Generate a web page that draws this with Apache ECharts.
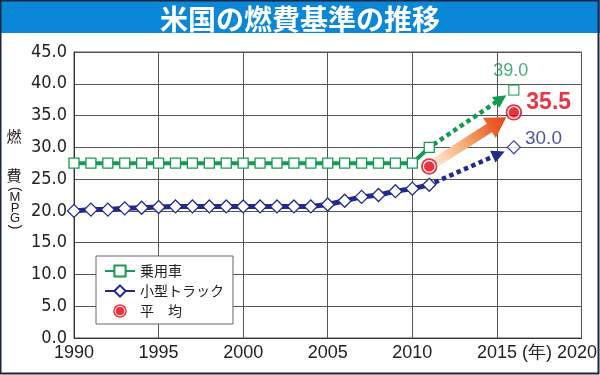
<!DOCTYPE html>
<html>
<head>
<meta charset="utf-8">
<script src="https://cdn.jsdelivr.net/npm/echarts@6/dist/echarts.min.js"></script>
<style>
  html, body { margin: 0; padding: 0; background: #fff; }
  #chart { width: 600px; height: 375px; }
</style>
</head>
<body>
<div id="chart"></div>
<script>
// 年（実績）
var years = [1990, 1991, 1992, 1993, 1994, 1995, 1996, 1997, 1998, 1999, 2000,
             2001, 2002, 2003, 2004, 2005, 2006, 2007, 2008, 2009, 2010, 2011];
// 乗用車 MPG
var carMpg = [27.5, 27.5, 27.5, 27.5, 27.5, 27.5, 27.5, 27.5, 27.5, 27.5, 27.5,
              27.5, 27.5, 27.5, 27.5, 27.5, 27.5, 27.5, 27.5, 27.5, 27.5, 30.0];
// 小型トラック MPG
var truckMpg = [20.0, 20.2, 20.2, 20.4, 20.5, 20.6, 20.7, 20.7, 20.7, 20.7, 20.7,
                20.7, 20.7, 20.7, 20.7, 21.0, 21.6, 22.2, 22.5, 23.1, 23.5, 24.1];
// 目標（2016年）
var targetYear = 2016;
var carTarget = 39.0;
var truckTarget = 30.0;
// 平均
var avgYears = [2011, 2016];
var avgMpg = [27.0, 35.5];

var GREEN = '#149a52';
var NAVY = '#1f2a8a';
var RED = '#e60012';
// 細い数字用（condensed を fontStyle に入れて font-stretch を効かせる）
var NARROW = '"Liberation Sans Narrow", "Liberation Sans", sans-serif';
var NARROW_Y = '"DejaVu Sans Condensed", "DejaVu Sans", sans-serif';
var JP = '"Noto Sans CJK JP", sans-serif';

var last = years.length - 1;
// 矢印: [x1, y1, x2, y2]
var arrows = [
  [years[last], carMpg[last], targetYear, carTarget],
  [years[last], truckMpg[last], targetYear, truckTarget],
  [avgYears[0], avgMpg[0], avgYears[1], avgMpg[1]]
];
// 矢印の見た目（index順）
var arrowStyle = [
  { kind: 'dot', color: GREEN, gap0: 5, gap1: 9 },
  { kind: 'dot', color: NAVY, gap0: 6, gap1: 10 },
  { kind: 'fat', gap0: 8, gap1: 9 }
];

var avgSymbol = 'image://data:image/svg+xml;utf8,' + encodeURIComponent(
  '<svg xmlns="http://www.w3.org/2000/svg" width="32" height="32">' +
  '<circle cx="16" cy="16" r="15.5" fill="#e60012"/>' +
  '<circle cx="16" cy="16" r="11" fill="#e60012" stroke="#ffffff" stroke-width="2.2"/></svg>');

function pair(xs, ys) {
  return xs.map(function (x, i) { return [x, ys[i]]; });
}

function renderArrow(params, api) {
  var st = arrowStyle[params.dataIndex];
  var a = api.coord([api.value(0), api.value(1)]);
  var b = api.coord([api.value(2), api.value(3)]);
  var dx = b[0] - a[0], dy = b[1] - a[1];
  var len = Math.sqrt(dx * dx + dy * dy);
  var ux = dx / len, uy = dy / len;   // 方向
  var nx = -uy, ny = ux;              // 法線
  var p0 = [a[0] + ux * st.gap0, a[1] + uy * st.gap0];
  var p1 = [b[0] - ux * st.gap1, b[1] - uy * st.gap1];
  if (st.kind === 'dot') {
    var hl = 13, hw = 6.5;
    var base = [p1[0] - ux * hl, p1[1] - uy * hl];
    return {
      type: 'group',
      children: [{
        type: 'line',
        shape: { x1: p0[0], y1: p0[1], x2: base[0] + ux * 2, y2: base[1] + uy * 2 },
        style: { stroke: st.color, lineWidth: 4.5, lineDash: [4.5, 3.5], lineCap: 'butt' }
      }, {
        type: 'polygon',
        shape: { points: [p1, [base[0] + nx * hw, base[1] + ny * hw], [base[0] - nx * hw, base[1] - ny * hw]] },
        style: { fill: st.color }
      }]
    };
  }
  // 太いグラデーション矢印
  var hl2 = 20, hw2 = 12, sw = 5;
  var b2 = [p1[0] - ux * hl2, p1[1] - uy * hl2];
  var pts = [
    [p0[0] + nx * sw, p0[1] + ny * sw],
    [b2[0] + nx * sw, b2[1] + ny * sw],
    [b2[0] + nx * hw2, b2[1] + ny * hw2],
    p1,
    [b2[0] - nx * hw2, b2[1] - ny * hw2],
    [b2[0] - nx * sw, b2[1] - ny * sw],
    [p0[0] - nx * sw, p0[1] - ny * sw]
  ];
  return {
    type: 'polygon',
    shape: { points: pts },
    style: {
      fill: {
        type: 'linear', global: true,
        x: p0[0], y: p0[1], x2: p1[0], y2: p1[1],
        colorStops: [
          { offset: 0, color: '#fde6cc' },
          { offset: 0.45, color: '#f3a56e' },
          { offset: 0.8, color: '#e9602a' },
          { offset: 1, color: '#e4461c' }
        ]
      }
    }
  };
}

// 縦書きの軸名
function vtext(ch, x, y, size, rot, family) {
  return {
    type: 'text', x: x, y: y, rotation: rot || 0,
    style: { text: ch, fontSize: size, fontFamily: family || JP, fill: '#222', align: 'center', verticalAlign: 'middle' }
  };
}

var chart = echarts.init(document.getElementById('chart'));

var option = {
  animation: false,
  backgroundColor: '#ffffff',
  title: {
    text: '米国の燃費基準の推移',
    left: 'center',
    top: 0,
    textStyle: { color: '#ffffff', fontSize: 28, fontWeight: 'bold', fontFamily: JP }
  },
  graphic: [
    { type: 'rect', z: -10, shape: { x: 0, y: 0, width: 600, height: 33 }, style: { fill: '#0a88d7' } },
    { type: 'rect', z: 100, shape: { x: 0.5, y: 0.5, width: 598, height: 373 },
      style: { fill: null, stroke: '#1b2740', lineWidth: 2 } },
    vtext('燃', 14, 136, 15),
    vtext('費', 14, 175, 15),
    vtext('(', 15, 189, 14, -Math.PI / 2, 'Liberation Sans, sans-serif'),
    vtext('M', 15, 197.5, 13, 0, 'Liberation Sans, sans-serif'),
    vtext('P', 15, 208, 13, 0, 'Liberation Sans, sans-serif'),
    vtext('G', 15, 218.5, 13, 0, 'Liberation Sans, sans-serif'),
    vtext(')', 15, 227, 14, -Math.PI / 2, 'Liberation Sans, sans-serif')
  ],
  legend: {
    data: ['乗用車', '小型トラック', '平　均'],
    orient: 'vertical',
    left: 96,
    top: 256,
    padding: [8, 9, 6, 8],
    itemGap: 6,
    itemWidth: 30,
    itemHeight: 14,
    backgroundColor: '#ffffff',
    borderColor: '#666',
    borderWidth: 1,
    borderRadius: 0,
    textStyle: { fontSize: 14, fontFamily: JP, color: '#222' }
  },
  grid: {
    left: 74, right: 18, top: 52, bottom: 37,
    show: true, borderColor: '#555', borderWidth: 1
  },
  xAxis: {
    type: 'value',
    min: 1990, max: 2020, interval: 5,
    axisLine: { lineStyle: { color: '#333' } },
    axisTick: { show: false },
    splitLine: { lineStyle: { color: '#555' } },
    axisLabel: {
      margin: 6,
      showMaxLabel: true,
      showMinLabel: true,
      hideOverlap: false,
      color: '#222',
      fontSize: 18,
      fontStyle: 'condensed',
      fontFamily: NARROW,
      formatter: function (v) {
        if (v === 2020) return '{yr|(年) 2020}';
        return String(v);
      },
      rich: {
        yr: { fontSize: 18, fontStyle: 'condensed', fontFamily: NARROW, color: '#222', padding: [0, 44, 0, 0] }
      }
    }
  },
  yAxis: {
    type: 'value',
    min: 0, max: 45, interval: 5,
    axisLine: { show: true, lineStyle: { color: '#333' } },
    axisTick: { show: false },
    splitLine: { lineStyle: { color: '#555' } },
    axisLabel: {
      margin: 7,
      color: '#222',
      fontSize: 18,
      fontStyle: 'condensed',
      fontFamily: NARROW_Y,
      formatter: function (v) { return v.toFixed(1); }
    }
  },
  series: [
    {
      name: 'arrows',
      type: 'custom',
      renderItem: renderArrow,
      data: arrows,
      z: 2,
      silent: true
    },
    {
      name: '乗用車',
      type: 'line',
      data: pair(years, carMpg),
      z: 3,
      symbol: 'rect',
      symbolSize: 10,
      showAllSymbol: true,
      lineStyle: { color: GREEN, width: 4 },
      itemStyle: { color: '#ffffff', borderColor: GREEN, borderWidth: 1.3 }
    },
    {
      name: '小型トラック',
      type: 'line',
      data: pair(years, truckMpg),
      z: 3,
      symbol: 'diamond',
      symbolSize: 13,
      showAllSymbol: true,
      lineStyle: { color: NAVY, width: 5 },
      itemStyle: { color: '#ffffff', borderColor: NAVY, borderWidth: 1.3 }
    },
    {
      name: '乗用車目標',
      type: 'scatter',
      data: [[targetYear, carTarget]],
      z: 4,
      symbol: 'rect',
      symbolSize: 10,
      itemStyle: { color: '#ffffff', borderColor: GREEN, borderWidth: 1.3 },
      label: {
        show: true, position: 'top', distance: 4, offset: [-3, 0],
        color: GREEN, fontSize: 18, fontStyle: 'condensed', fontFamily: NARROW,
        formatter: function (p) { return p.value[1].toFixed(1); }
      }
    },
    {
      name: '小型トラック目標',
      type: 'scatter',
      data: [[targetYear, truckTarget]],
      z: 4,
      symbol: 'diamond',
      symbolSize: 13,
      itemStyle: { color: '#ffffff', borderColor: NAVY, borderWidth: 1.3 },
      label: {
        show: true, position: 'right', distance: 4, offset: [0, -9],
        color: NAVY, fontSize: 19, fontStyle: 'condensed', fontFamily: NARROW,
        formatter: function (p) { return p.value[1].toFixed(1); }
      }
    },
    {
      name: '平　均',
      type: 'scatter',
      z: 4,
      symbol: avgSymbol,
      symbolSize: 17,
      itemStyle: { color: RED },
      data: pair(avgYears, avgMpg).map(function (d, i) {
        return {
          value: d,
          label: {
            show: i === avgYears.length - 1, position: 'right', distance: 4, offset: [0, -10],
            color: RED, fontSize: 23, fontWeight: 'bold', fontStyle: 'condensed', fontFamily: NARROW,
            formatter: function (p) { return p.value[1].toFixed(1); }
          }
        };
      })
    }
  ]
};

chart.setOption(option);
window.addEventListener('resize', function () {
  chart.resize();
});
</script>
</body>
</html>
